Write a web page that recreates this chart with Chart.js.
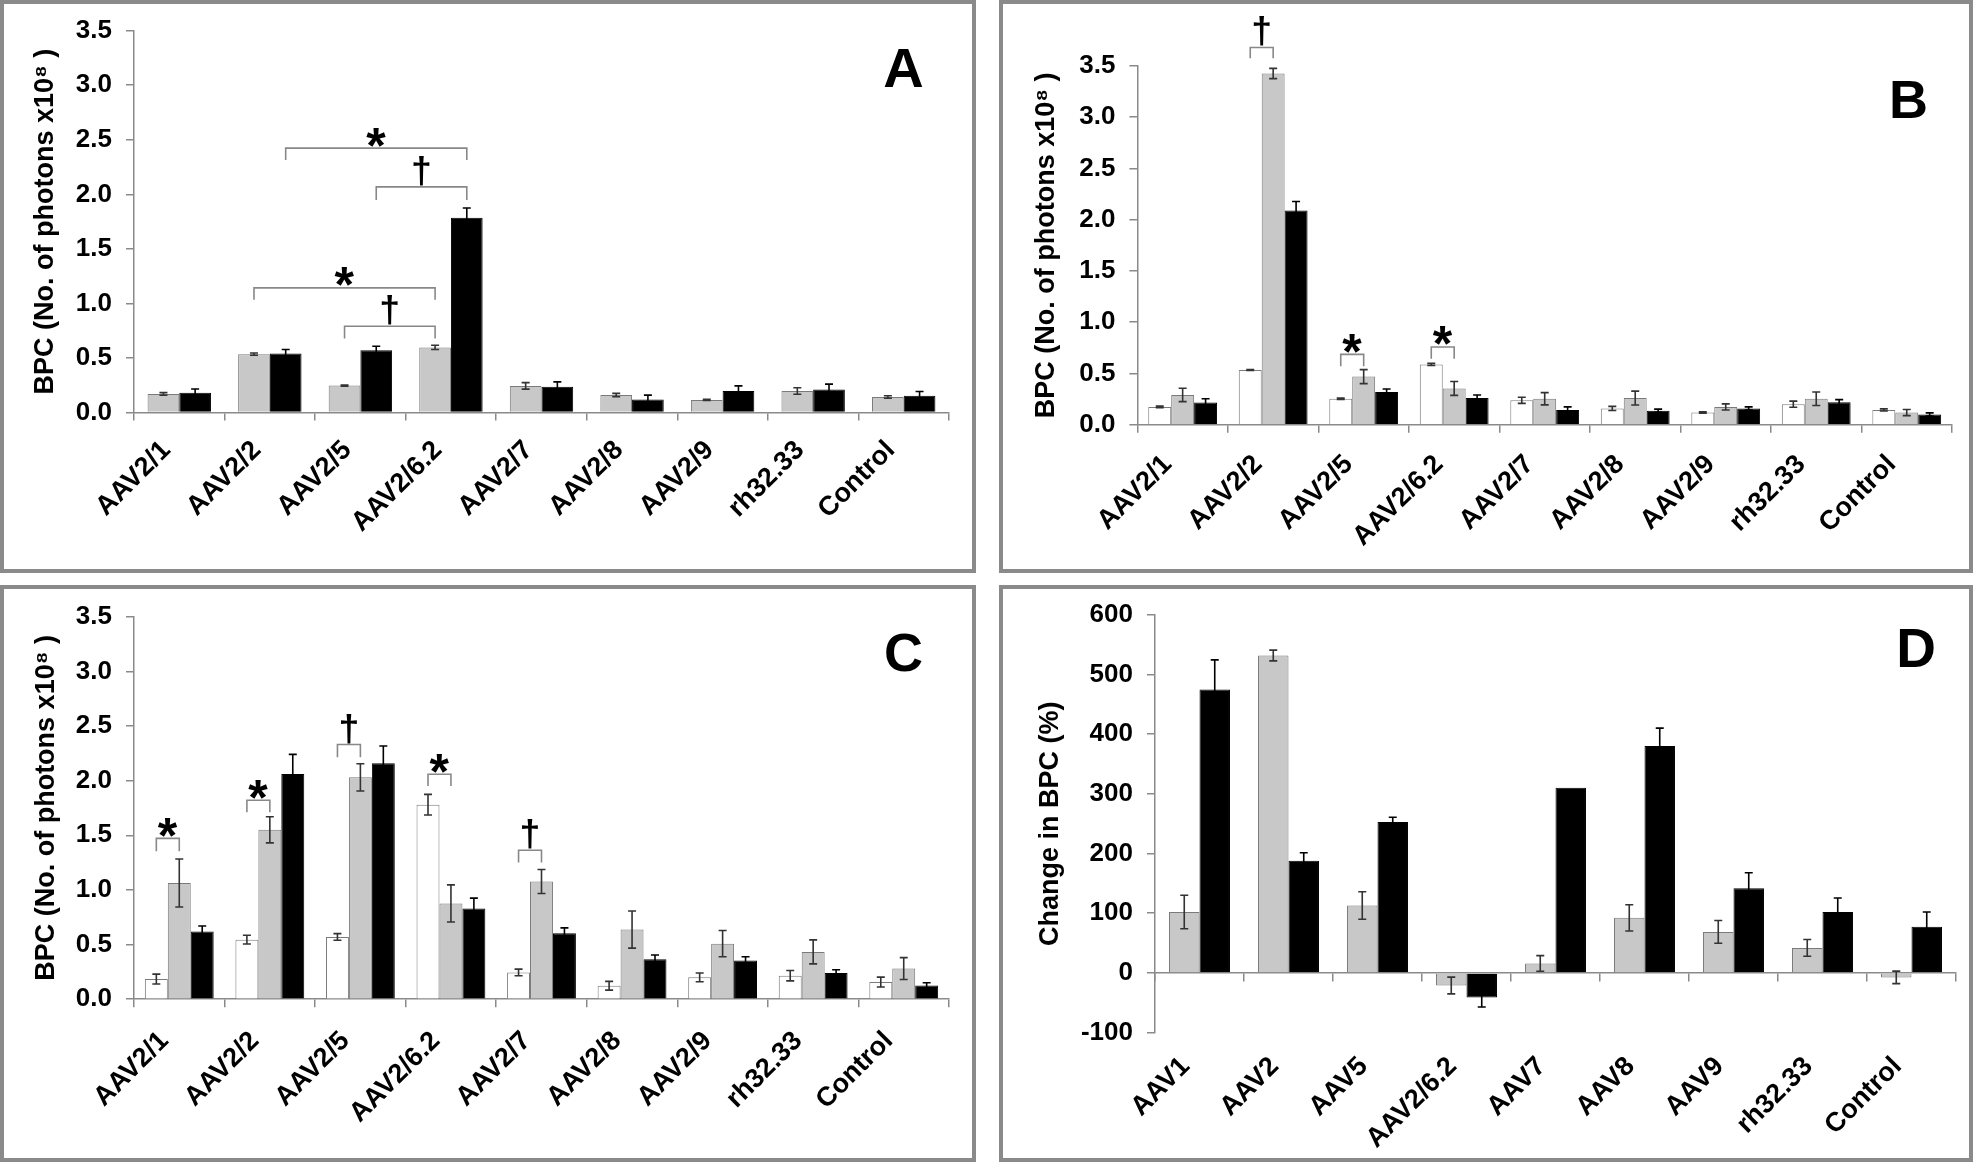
<!DOCTYPE html>
<html><head><meta charset="utf-8">
<script src="https://cdn.jsdelivr.net/npm/chart.js@4.4.1/dist/chart.umd.min.js"></script>
<style>
html,body{margin:0;padding:0;background:#fff;width:1974px;height:1169px;overflow:hidden;}
.frame{position:absolute;box-sizing:border-box;border:4px solid #8a8a8a;background:#fff;}
canvas{position:absolute;}
</style></head><body>
<div class="frame" style="left:0;top:0;width:976px;height:573px"></div>
<div class="frame" style="left:999px;top:0;width:974px;height:573px"></div>
<div class="frame" style="left:0;top:585px;width:976px;height:577px"></div>
<div class="frame" style="left:999px;top:585px;width:974px;height:577px"></div>
<canvas id="cA" width="976" height="573" style="left:0;top:0"></canvas>
<canvas id="cB" width="974" height="573" style="left:999px;top:0"></canvas>
<canvas id="cC" width="976" height="577" style="left:0;top:585px"></canvas>
<canvas id="cD" width="974" height="577" style="left:999px;top:585px"></canvas>
<script>
// ---------- data ----------
const categories = ['AAV2/1','AAV2/2','AAV2/5','AAV2/6.2','AAV2/7','AAV2/8','AAV2/9','rh32.33','Control'];
const categoriesD = ['AAV1','AAV2','AAV5','AAV2/6.2','AAV7','AAV8','AAV9','rh32.33','Control'];
const bpcTicks = [0, 0.5, 1, 1.5, 2, 2.5, 3, 3.5];
const pctTicks = [-100, 0, 100, 200, 300, 400, 500, 600];

// Panel A
const aGray      = [0.17, 0.535, 0.247, 0.597, 0.244, 0.16, 0.115, 0.197, 0.142];
const aGrayErr   = [0.012, 0.01, 0.005, 0.02, 0.03, 0.015, 0.005, 0.03, 0.012];
const aBlack     = [0.18, 0.54, 0.57, 1.786, 0.237, 0.119, 0.197, 0.21, 0.153];
const aBlackErr  = [0.035, 0.037, 0.037, 0.088, 0.044, 0.04, 0.047, 0.05, 0.04];

// Panel B
const bWhite     = [0.173, 0.534, 0.253, 0.588, 0.238, 0.159, 0.119, 0.2, 0.144];
const bWhiteErr  = [0.008, 0.005, 0.006, 0.01, 0.03, 0.02, 0.006, 0.03, 0.01];
const bGray      = [0.29, 3.426, 0.469, 0.354, 0.253, 0.26, 0.173, 0.253, 0.119];
const bGrayErr   = [0.065, 0.05, 0.068, 0.068, 0.06, 0.068, 0.03, 0.066, 0.03];
const bBlack     = [0.217, 2.09, 0.318, 0.26, 0.144, 0.137, 0.159, 0.22, 0.1];
const bBlackErr  = [0.036, 0.087, 0.03, 0.03, 0.03, 0.015, 0.015, 0.025, 0.015];

// Panel C
const cWhite     = [0.184, 0.545, 0.57, 1.78, 0.245, 0.123, 0.2, 0.215, 0.157];
const cWhiteErr  = [0.045, 0.04, 0.03, 0.094, 0.03, 0.04, 0.04, 0.047, 0.045];
const cGray      = [1.063, 1.55, 2.03, 0.876, 1.077, 0.637, 0.508, 0.433, 0.28];
const cGrayErr   = [0.22, 0.12, 0.125, 0.17, 0.11, 0.17, 0.12, 0.11, 0.1];
const cBlack     = [0.62, 2.06, 2.16, 0.83, 0.603, 0.365, 0.354, 0.239, 0.126];
const cBlackErr  = [0.05, 0.18, 0.157, 0.095, 0.05, 0.04, 0.035, 0.03, 0.025];

// Panel D (change in BPC, %)
const dGray      = [102, 531.6, 113, -21, 16, 92.3, 68.8, 42, -7.4];
const dGrayErr   = [28, 9, 23, 14, 13, 22, 19, 14, 10.5];
const dBlack     = [474.6, 187.7, 252.8, -41, 310, 380, 141.9, 102, 77.4];
const dBlackErr  = [49.6, 13.6, 8, 16, 0, 30, 26, 23.5, 24.8];

// Significance brackets: [dataset, category] endpoints, bracket level and leg end (data units)
const bracketsA = [
  {from:[1,1], to:[1,3], y:2.424, leg:2.315, mark:'*'},
  {from:[1,2], to:[1,3], y:2.068, leg:1.949, mark:'\u2020'},
  {from:[0,1], to:[0,3], y:1.142, leg:1.034, mark:'*'},
  {from:[0,2], to:[0,3], y:0.79,  leg:0.678, mark:'\u2020'}
];
const bracketsB = [
  {from:[0,1], to:[1,1], y:3.68,  leg:3.574, mark:'\u2020'},
  {from:[0,2], to:[1,2], y:0.686, leg:0.57,  mark:'*'},
  {from:[0,3], to:[1,3], y:0.758, leg:0.643, mark:'*'}
];
const bracketsC = [
  {from:[0,0], to:[1,0], y:1.472, leg:1.353, mark:'*'},
  {from:[0,1], to:[1,1], y:1.82,  leg:1.71,  mark:'*'},
  {from:[0,2], to:[1,2], y:2.33,  leg:2.215, mark:'\u2020'},
  {from:[0,3], to:[1,3], y:2.059, leg:1.95,  mark:'*'},
  {from:[0,4], to:[1,4], y:1.363, leg:1.25,  mark:'\u2020'}
];

// ---------- styling ----------
const FONT = '"Liberation Sans", Arial, Helvetica, sans-serif';
Chart.defaults.font.family = FONT;
Chart.defaults.color = '#000';
const AXIS = '#8a8a8a';
const EDGE = '#7a7a7a';
const STYLE = {
  white: {bg:'#ffffff', bd:EDGE, err:'#333'},
  gray:  {bg:'#c8c8c8', bd:EDGE, err:'#333'},
  black: {bg:'#000000', bd:'#000000', err:'#000'}
};
function barDS(data, errors, kind, catPct) {
  const s = STYLE[kind];
  return {data, errors, errColor:s.err, backgroundColor:s.bg, borderColor:s.bd,
          borderWidth:1, barPercentage:1, categoryPercentage:catPct};
}

function drawGlyph(ctx, txt, cx, cy, h) {
  ctx.textAlign = 'left'; ctx.textBaseline = 'alphabetic';
  ctx.font = 'bold 100px ' + FONT;
  const m = ctx.measureText(txt);
  const size = 100 * h / (m.actualBoundingBoxAscent + m.actualBoundingBoxDescent);
  ctx.font = 'bold ' + size.toFixed(2) + 'px ' + FONT;
  const m2 = ctx.measureText(txt);
  const x = cx + (m2.actualBoundingBoxLeft - m2.actualBoundingBoxRight) / 2;
  const y = cy + (m2.actualBoundingBoxAscent - m2.actualBoundingBoxDescent) / 2;
  ctx.fillText(txt, x, y);
}

const extras = {
  id: 'extras',
  afterDatasetsDraw(chart, args, opts) {
    const ctx = chart.ctx;
    const ys = chart.scales.y;
    ctx.save();
    // error bars
    chart.data.datasets.forEach((ds, di) => {
      if (!ds.errors) return;
      const meta = chart.getDatasetMeta(di);
      meta.data.forEach((bar, i) => {
        const e = ds.errors[i];
        if (!e) return;
        const v = ds.data[i];
        const y1 = ys.getPixelForValue(v - e), y2 = ys.getPixelForValue(v + e);
        ctx.strokeStyle = ds.errColor; ctx.lineWidth = 1.6;
        ctx.beginPath();
        ctx.moveTo(bar.x, y1); ctx.lineTo(bar.x, y2);
        ctx.moveTo(bar.x - 4, y1); ctx.lineTo(bar.x + 4, y1);
        ctx.moveTo(bar.x - 4, y2); ctx.lineTo(bar.x + 4, y2);
        ctx.stroke();
      });
    });
    // brackets
    (opts.brackets || []).forEach(b => {
      const x1 = chart.getDatasetMeta(b.from[0]).data[b.from[1]].x;
      const x2 = chart.getDatasetMeta(b.to[0]).data[b.to[1]].x;
      const yl = ys.getPixelForValue(b.y), yg = ys.getPixelForValue(b.leg);
      ctx.strokeStyle = '#888'; ctx.lineWidth = 1.6;
      ctx.beginPath();
      ctx.moveTo(x1, yg); ctx.lineTo(x1, yl); ctx.lineTo(x2, yl); ctx.lineTo(x2, yg);
      ctx.stroke();
      ctx.fillStyle = '#000';
      if (b.mark === '*') drawGlyph(ctx, '*', (x1 + x2) / 2, yl - 11, 19);
      else drawGlyph(ctx, b.mark, (x1 + x2) / 2, yl - 16, 30);
    });
    // panel letter
    if (opts.letter) {
      ctx.fillStyle = '#000';
      ctx.font = 'bold ' + opts.letter.size + 'px ' + FONT;
      ctx.textAlign = 'center'; ctx.textBaseline = 'alphabetic';
      ctx.fillText(opts.letter.text, opts.letter.x, opts.letter.y);
    }
    ctx.restore();
  }
};
Chart.register(extras);

function makePanel(p) {
  const canvas = document.getElementById(p.id);
  const W = canvas.width, H = canvas.height;
  const PADL = 6, PADB = 4;
  const scales = {
    x: {
      type: 'category', offset: true,
      grid: {display: !p.zeroAxis, drawOnChartArea: false, offset: true, tickLength: 8, color: AXIS, lineWidth: 1.5},
      border: {display: !p.zeroAxis, color: AXIS, width: 1.5},
      ticks: {autoSkip: false, minRotation: 45, maxRotation: 45, padding: p.xPad, labelOffset: p.xOff,
              font: {size: 27, weight: 'bold'}},
      afterFit: s => { s.height = H - PADB - p.chartB; }
    },
    y: {
      min: p.yTicks[0], max: p.yTicks[p.yTicks.length - 1],
      grid: {drawOnChartArea: false, tickLength: 8, color: AXIS, lineWidth: 1.5},
      border: {color: AXIS, width: 1.5},
      ticks: {font: {size: 26, weight: 'bold'}, padding: 14, callback: p.fmt},
      afterBuildTicks: s => { s.ticks = p.yTicks.map(v => ({value: v})); },
      title: {display: true, text: p.yTitle, font: {size: 27, weight: 'bold'},
              padding: {top: p.titleX - PADL - 16.2, bottom: 0}},
      afterFit: s => { s.width = p.chartL - PADL; }
    }
  };
  if (p.zeroAxis) {
    scales.x2 = {
      type: 'category', labels: p.labels, offset: true, position: {y: 0},
      grid: {drawOnChartArea: false, offset: true, tickLength: 8, color: AXIS, lineWidth: 1.5},
      border: {color: AXIS, width: 1.5},
      ticks: {display: false},
      afterFit: s => { s.height = 0; }
    };
  }
  return new Chart(canvas, {
    type: 'bar',
    data: {labels: p.labels, datasets: p.datasets},
    options: {
      responsive: false, animation: false, devicePixelRatio: 1,
      layout: {padding: {left: PADL, right: W - p.chartR, top: p.chartT, bottom: PADB}},
      plugins: {legend: {display: false}, tooltip: {enabled: false},
                extras: {brackets: p.brackets, letter: p.letter}},
      scales
    }
  });
}

const fmt1 = v => Number(v).toFixed(1);
const fmt0 = v => String(Math.round(v));
const bpcTitle = 'BPC (No. of photons x10\u2078 )';

makePanel({
  id: 'cA', labels: categories, chartL: 134, chartR: 949, chartT: 30.7, chartB: 412.5,
  yTicks: bpcTicks, fmt: fmt1, yTitle: bpcTitle, titleX: 46, xPad: 14, xOff: -13,
  datasets: [barDS(aGray, aGrayErr, 'gray', 0.7), barDS(aBlack, aBlackErr, 'black', 0.7)],
  brackets: bracketsA, letter: {text: 'A', x: 903.5, y: 87, size: 56}
});
makePanel({
  id: 'cB', labels: categories, chartL: 138.4, chartR: 953, chartT: 65.9, chartB: 424.7,
  yTicks: bpcTicks, fmt: fmt1, yTitle: bpcTitle, titleX: 48, xPad: 16, xOff: -15,
  datasets: [barDS(bWhite, bWhiteErr, 'white', 0.76), barDS(bGray, bGrayErr, 'gray', 0.76), barDS(bBlack, bBlackErr, 'black', 0.76)],
  brackets: bracketsB, letter: {text: 'B', x: 909.5, y: 117.6, size: 54}
});
makePanel({
  id: 'cC', labels: categories, chartL: 134, chartR: 949, chartT: 31.7, chartB: 414.2,
  yTicks: bpcTicks, fmt: fmt1, yTitle: bpcTitle, titleX: 46.5, xPad: 18, xOff: -15,
  datasets: [barDS(cWhite, cWhiteErr, 'white', 0.76), barDS(cGray, cGrayErr, 'gray', 0.76), barDS(cBlack, cBlackErr, 'black', 0.76)],
  brackets: bracketsC, letter: {text: 'C', x: 903.5, y: 86, size: 54}
});
makePanel({
  id: 'cD', labels: categoriesD, chartL: 156, chartR: 957, chartT: 26.8, chartB: 447.7,
  yTicks: pctTicks, fmt: fmt0, yTitle: 'Change in BPC (%)', titleX: 52, xPad: 10, xOff: -14, zeroAxis: true,
  datasets: [barDS(dGray, dGrayErr, 'gray', 0.685), barDS(dBlack, dBlackErr, 'black', 0.685)],
  brackets: [], letter: {text: 'D', x: 917, y: 82, size: 55}
});
</script>
</body></html>
